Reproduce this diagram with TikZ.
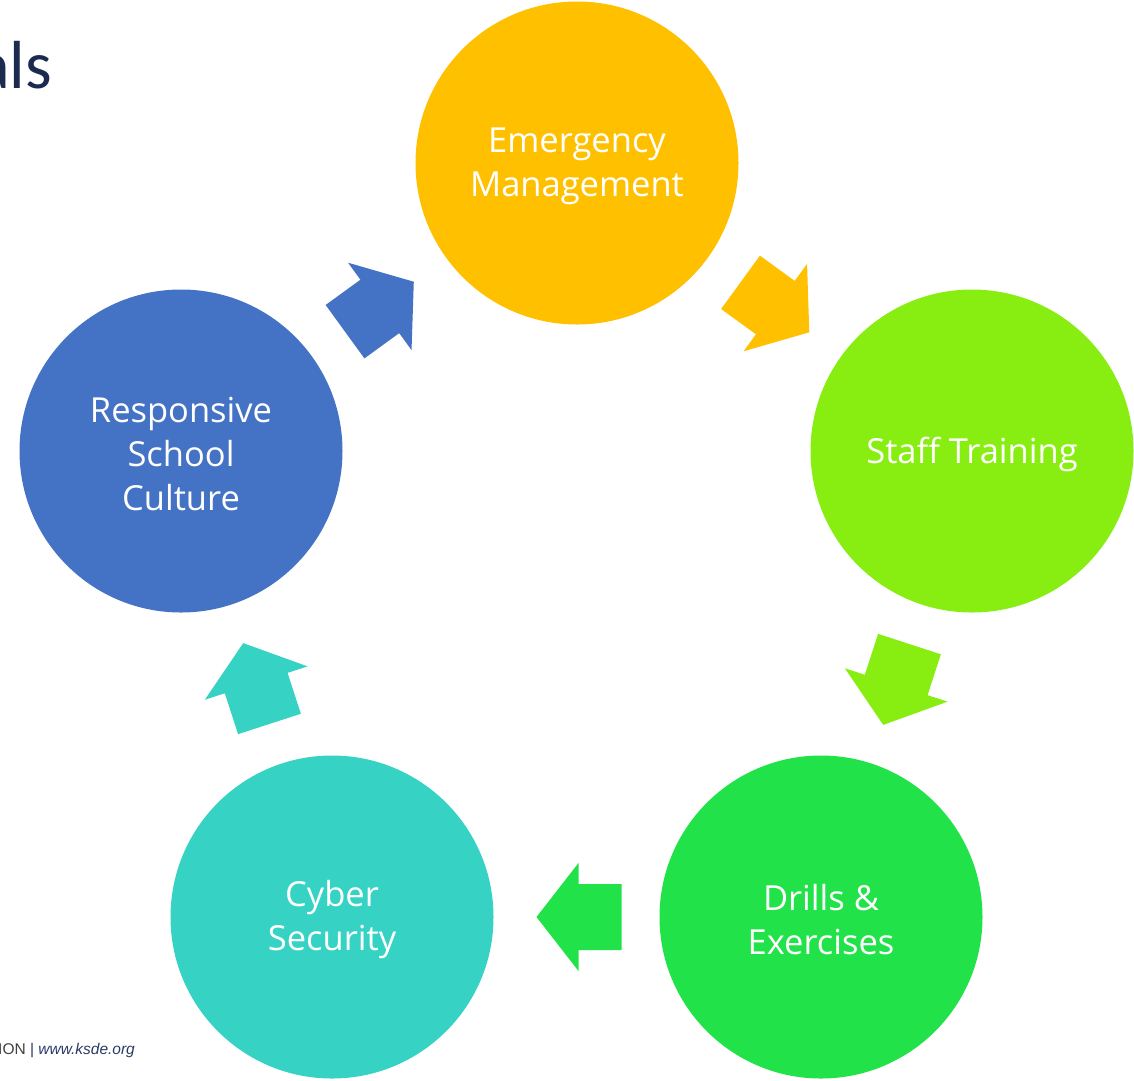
\documentclass[tikz,border=0pt]{standalone}
\usepackage{fontspec}
\setmainfont{Open Sans}
\newfontfamily\titlefont{Carlito}
\newfontfamily\footfont{Liberation Sans}
\usetikzlibrary{calc}
\definecolor{cEM}{HTML}{FFC000}
\definecolor{cST}{HTML}{88EE12}
\definecolor{cDR}{HTML}{22E24A}
\definecolor{cCY}{HTML}{36D3C5}
\definecolor{cRS}{HTML}{4472C4}
\definecolor{titlenavy}{HTML}{1B2A4E}
\definecolor{footgrey}{HTML}{404040}
\definecolor{footnavy}{HTML}{2A3A66}
\begin{document}
\begin{tikzpicture}[x=1pt,y=-1pt,
  circ/.style={circle, minimum size=323pt, inner sep=0pt},
  ctext/.style={text=white, font=\fontsize{34.5}{44}\selectfont, align=center, inner sep=0pt, yshift=-3pt},
  cyclearrow/.pic={
    \fill[pic actions] (-42,-33) -- (1,-33) -- (1,-54) -- (43,0) -- (1,54) -- (1,33) -- (-42,33) -- cycle;
  }]
\useasboundingbox (0,0) rectangle (1134,1080);
\node[circ, fill=cEM] (em) at (577,163) {};
\node[circ, fill=cST] (st) at (972,451) {};
\node[circ, fill=cDR] (dr) at (821,917) {};
\node[circ, fill=cCY] (cy) at (332,917) {};
\node[circ, fill=cRS] (rs) at (181,451) {};
\node[ctext] (em-t) at (em) {Emergency\\Management};
\node[ctext] (st-t) at (st) {Staff Training};
\node[ctext] (dr-t) at (dr) {Drills \&\\Exercises};
\node[ctext] (cy-t) at (cy) {Cyber\\Security};
\node[ctext] (rs-t) at (rs) {Responsive\\School\\Culture};
\pic[rotate=-36, fill=cEM] (a1) at ($(em)!0.5!(st)$) {cyclearrow};
\pic[rotate=-108, fill=cST] (a2) at ($(st)!0.5!(dr)$) {cyclearrow};
\pic[rotate=180, fill=cDR] (a3) at ($(dr)!0.5!(cy)+(3,0)$) {cyclearrow};
\pic[rotate=108, fill=cCY] (a4) at ($(cy)!0.5!(rs)$) {cyclearrow};
\pic[rotate=36, fill=cRS] (a5) at ($(rs)!0.5!(em)$) {cyclearrow};
\node[anchor=base east, inner sep=0pt, text=titlenavy, font=\titlefont\fontsize{68}{68}\selectfont] (title) at (52,88) {als};
\node[anchor=base west, inner sep=0pt, font=\footfont\fontsize{15.5}{16}\selectfont] (foot) at (-2,1054) {\textcolor{footgrey}{ION} \textcolor{footnavy}{| \textit{www.ksde.org}}};
\end{tikzpicture}
\end{document}
